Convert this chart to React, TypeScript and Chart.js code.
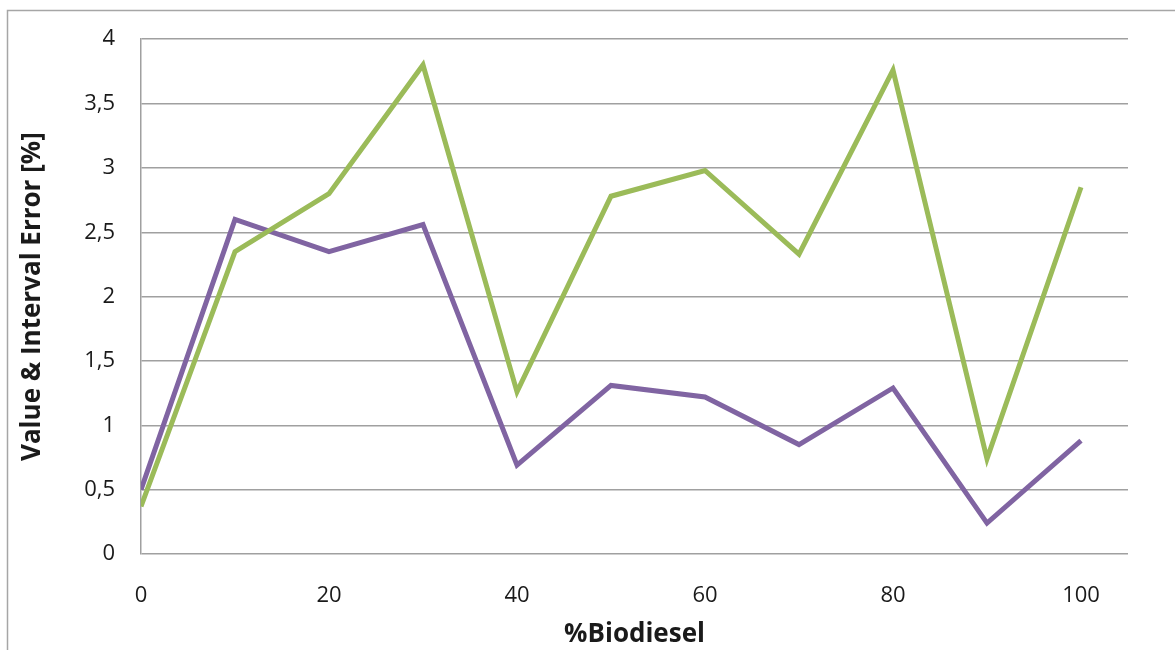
import React, { useEffect, useRef } from "react";
import { Chart, registerables } from "chart.js";

Chart.register(...registerables);

// %Biodiesel blend levels
const biodieselPct = [0, 10, 20, 30, 40, 50, 60, 70, 80, 90, 100];
// Series values [%]
const valueError = [0.37, 2.35, 2.8, 3.8, 1.26, 2.78, 2.98, 2.33, 3.76, 0.74, 2.85];
const intervalError = [0.5, 2.6, 2.35, 2.56, 0.69, 1.31, 1.22, 0.85, 1.29, 0.24, 0.88];
// Axis ticks
const xTicks = [0, 20, 40, 60, 80, 100];

const FONT = "'Open Sans', 'Liberation Sans', sans-serif";

const frame = {
  id: "frame",
  beforeDraw(chart: any) {
    const ctx = chart.ctx;
    ctx.save();
    ctx.fillStyle = "#ffffff";
    ctx.fillRect(0, 0, chart.width, chart.height);
    ctx.strokeStyle = "#a6a6a6";
    ctx.lineWidth = 1.5;
    ctx.strokeRect(7.5, 10.5, chart.width + 40, chart.height + 40);
    ctx.restore();
  },
};

export default function App() {
  const ref = useRef<HTMLCanvasElement | null>(null);

  useEffect(() => {
    if (!ref.current) return;
    const chart = new Chart(ref.current, {
      type: "line",
      data: {
        datasets: [
          {
            label: "Value Error",
            data: biodieselPct.map((x, i) => ({ x, y: valueError[i] })),
            borderColor: "#9bbb59",
            borderWidth: 5,
            pointRadius: 0,
            tension: 0,
          },
          {
            label: "Interval Error",
            data: biodieselPct.map((x, i) => ({ x, y: intervalError[i] })),
            borderColor: "#8064a2",
            borderWidth: 5,
            pointRadius: 0,
            tension: 0,
          },
        ],
      },
      plugins: [frame],
      options: {
        responsive: false,
        animation: false,
        layout: { padding: { left: 0, top: 38, right: 47, bottom: 0 } },
        plugins: { legend: { display: false }, tooltip: { enabled: false } },
        scales: {
          x: {
            type: "linear",
            min: 0,
            max: 105,
            afterBuildTicks: (scale: any) => {
              scale.ticks = xTicks.map((v) => ({ value: v }));
            },
            afterFit: (scale: any) => {
              scale.height = 96;
            },
            grid: { display: false, drawTicks: false },
            border: { display: false },
            ticks: {
              color: "#1a1a1a",
              font: { family: FONT, size: 22 },
              padding: 29,
              maxRotation: 0,
            },
            title: {
              display: true,
              text: "%Biodiesel",
              color: "#1a1a1a",
              font: { family: FONT, size: 26, weight: "bold" },
              padding: { top: 0, bottom: 0 },
            },
          },
          y: {
            min: 0,
            max: 4,
            afterFit: (scale: any) => {
              scale.width = 141;
            },
            grid: { color: "#a0a0a0", lineWidth: 1.5, drawTicks: false },
            border: { display: true, color: "#a0a0a0", width: 1.5 },
            ticks: {
              stepSize: 0.5,
              color: "#1a1a1a",
              font: { family: FONT, size: 22 },
              padding: 26,
              callback: (v: any) => String(v).replace(".", ","),
            },
            title: {
              display: true,
              text: "Value & Interval Error [%]",
              color: "#1a1a1a",
              font: { family: FONT, size: 26, weight: "bold" },
              padding: { top: 17, bottom: 0 },
            },
          },
        },
      },
    });
    return () => chart.destroy();
  }, []);

  return (
    <div style={{ position: "fixed", left: 0, top: 0, width: 1175, height: 650, background: "#fff" }}>
      <canvas ref={ref} width={1175} height={650} style={{ display: "block" }} />
    </div>
  );
}
